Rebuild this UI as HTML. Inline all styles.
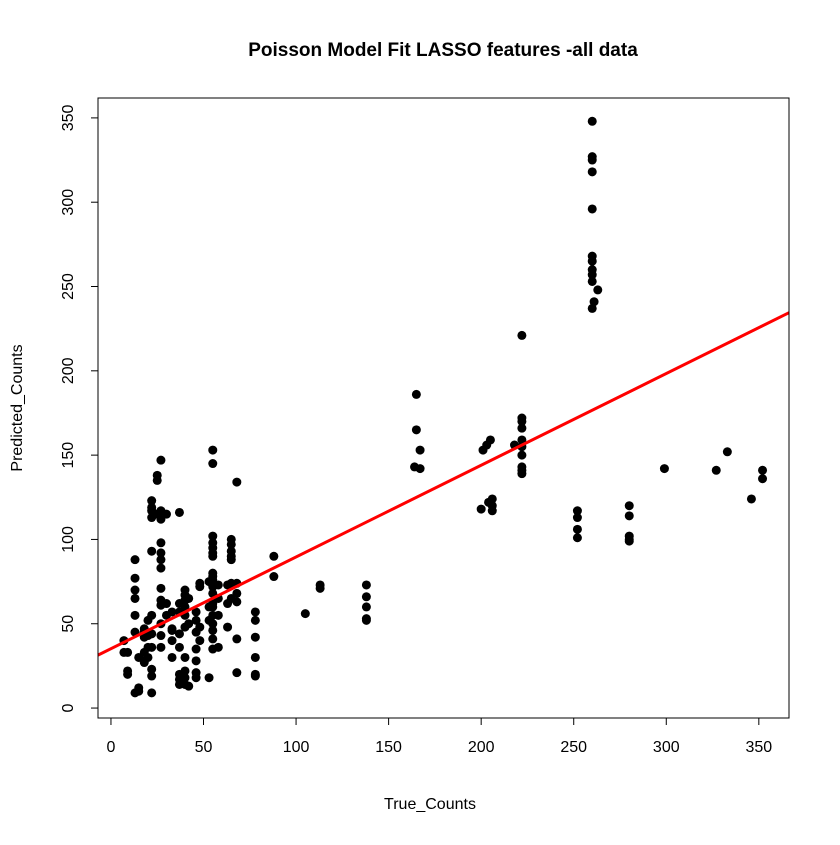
<!DOCTYPE html>
<html><head><meta charset="utf-8"><style>
body{margin:0;background:#fff;}
svg text{font-family:"Liberation Sans",Arial,sans-serif;}
</style></head><body>
<svg id="chart" width="840" height="840" xmlns="http://www.w3.org/2000/svg">
<rect width="840" height="840" fill="#fff"/>
<text x="443" y="56" text-anchor="middle" font-size="19" font-weight="bold">Poisson Model Fit LASSO features -all data</text>
<text x="430" y="809" text-anchor="middle" font-size="16">True_Counts</text>
<text x="22" y="408" text-anchor="middle" font-size="16" transform="rotate(-90 22 408)">Predicted_Counts</text>
<g id="axes"></g>
<g id="points"></g>
<g id="fit"></g>
<rect x="98" y="98" width="691" height="620" fill="none" stroke="#000" stroke-width="1"/>
</svg>
<script>
const xTicks=[0,50,100,150,200,250,300,350];
const yTicks=[0,50,100,150,200,250,300,350];
const trueCounts=[260,260,260,260,260,260,260,260,260,260,263,261,260,
222,222,222,222,222,222,222,222,222,222,218,201,203,205,200,204,206,206,206,
165,165,167,164,167,138,138,138,138,138,113,113,105,88,88,
252,252,252,252,280,280,280,280,280,299,327,333,346,352,352,
7,7,9,9,9,13,13,13,13,13,13,13,15,15,15,18,18,18,18,18,18,20,20,20,20,
22,22,22,22,22,22,22,22,22,22,22,25,25,25,
27,27,27,27,27,27,27,27,27,27,27,27,27,30,30,30,33,33,33,33,33,
37,37,37,37,37,37,37,37,40,40,40,40,40,40,40,40,40,40,42,42,42,
46,46,46,46,46,46,46,48,48,48,48,53,53,53,53,
55,55,55,55,55,55,55,55,55,55,55,55,55,55,55,55,55,55,55,
58,58,58,58,63,63,63,65,65,65,65,65,65,65,68,68,68,68,68,68,78,78,78,78,78,78];
const predictedCounts=[348,327,325,318,296,268,265,260,257,253,248,241,237,
221,172,170,166,159,155,150,143,141,139,156,153,156,159,118,122,124,120,117,
186,165,153,143,142,73,66,60,53,52,73,71,56,90,78,
117,113,106,101,120,114,102,100,99,142,141,152,124,141,136,
40,33,22,20,33,88,77,70,65,55,45,9,12,10,30,47,45,42,33,28,27,52,43,36,30,
123,119,117,113,93,55,44,36,23,19,9,138,135,115,
147,117,112,98,92,88,83,71,64,61,50,43,36,115,62,55,30,40,46,57,47,
116,62,57,44,36,20,17,14,70,67,64,60,55,48,30,22,18,14,65,50,13,
57,52,45,35,28,21,18,74,72,48,40,75,60,52,18,
153,145,102,98,95,92,90,80,78,76,72,68,62,60,55,50,46,41,35,
73,65,55,36,73,62,48,100,97,93,90,88,74,65,134,74,68,63,41,21,57,52,42,30,20,19];
const fitIntercept=[35.2];
const fitSlope=[0.544];

const NS="http://www.w3.org/2000/svg";
const X0=98,X1=789,Y0=98,Y1=718;
const xMin=-7.0,xMax=366.3,yMin=-5.9,yMax=361.8;
function sx(v){return X0+(v-xMin)/(xMax-xMin)*(X1-X0);}
function sy(v){return Y1-(v-yMin)/(yMax-yMin)*(Y1-Y0);}
function mk(t,a){const e=document.createElementNS(NS,t);for(const k in a)e.setAttribute(k,a[k]);return e;}
const axes=document.getElementById('axes');
const xl=mk('line',{x1:sx(xTicks[0]),x2:sx(xTicks[xTicks.length-1]),y1:718,y2:718,stroke:'#000'});


axes.appendChild(xl);
xTicks.forEach(t=>{
 const l=mk('line',{x1:sx(t),x2:sx(t),y1:718,y2:725,stroke:'#000'});
 
 
 axes.appendChild(l);
 const tx=mk('text',{x:sx(t),y:752,'text-anchor':'middle','font-size':16});
 tx.textContent=t;
 
 
 axes.appendChild(tx);
});
const yl=mk('line',{x1:98,x2:98,y1:sy(yTicks[0]),y2:sy(yTicks[yTicks.length-1]),stroke:'#000'});


axes.appendChild(yl);
yTicks.forEach(t=>{
 const l=mk('line',{x1:91,x2:98,y1:sy(t),y2:sy(t),stroke:'#000'});
 
 
 axes.appendChild(l);
 const tx=mk('text',{x:73,y:sy(t),'text-anchor':'middle','font-size':16,transform:`rotate(-90 73 ${sy(t)})`});
 tx.textContent=t;
 
 
 axes.appendChild(tx);
});
const pts=document.getElementById('points');
trueCounts.forEach((v,i)=>{
 const c=mk('circle',{cx:sx(v),cy:sy(predictedCounts[i]),r:4.5,fill:'#000'});
 
 
 pts.appendChild(c);
});
const fit=document.getElementById('fit');
const ln=mk('line',{x1:X0,y1:sy(fitIntercept[0]+fitSlope[0]*xMin),x2:X1,y2:sy(fitIntercept[0]+fitSlope[0]*xMax),stroke:'#f00','stroke-width':3});


fit.appendChild(ln);
</script>
</body></html>
